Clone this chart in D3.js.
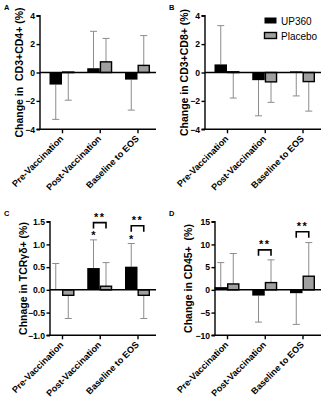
<!DOCTYPE html>
<html>
<head>
<meta charset="utf-8">
<script src="https://cdn.jsdelivr.net/npm/d3@7"></script>
<style>
html,body{margin:0;padding:0;background:#fff;}
svg text{font-family:"Liberation Sans",Arial,sans-serif;}
</style>
</head>
<body>
<svg id="chart" width="331" height="400"></svg>
<script>
const categories = ["Pre-Vaccination", "Post-Vaccination", "Baseline to EOS"];
const seriesNames = ["UP360", "Placebo"];

// Panel A: CD3+CD4+
const aUP360 = [-0.85, 0.3, -0.5];
const aUP360Err = [-3.3, 2.9, -2.65];
const aPlacebo = [0.03, 0.75, 0.5];
const aPlaceboErr = [-1.95, 2.4, 2.6];
const aTicks = [-4, -2, 0, 2, 4];

// Panel B: CD3+CD8+
const bUP360 = [0.57, -0.54, 0.08];
const bUP360Err = [3.3, -3.05, -1.65];
const bPlacebo = [0.05, -0.66, -0.64];
const bPlaceboErr = [-1.8, -2.1, -2.72];
const bTicks = [-4, -2, 0, 2, 4];

// Panel C: TCRγδ+
const cUP360 = [0.005, 0.48, 0.51];
const cUP360Err = [0.58, 1.1, 1.02];
const cPlacebo = [-0.12, 0.08, -0.12];
const cPlaceboErr = [-0.63, 0.6, -0.63];
const cTicks = [-1.0, -0.5, 0.0, 0.5, 1.0, 1.5];
const cStars = [null, 1.24, 1.14];
const cBrackets = [null, 1.48, 1.41];

// Panel D: CD45+
const dUP360 = [0.6, -1.26, -0.73];
const dUP360Err = [6.0, -7.1, -7.6];
const dPlacebo = [1.3, 1.6, 3.0];
const dPlaceboErr = [8.0, 6.6, 10.4];
const dTicks = [-10, -5, 0, 5, 10, 15];
const dBrackets = [null, 8.8, 12.8];

const panels = [
  {label:"A", ox:0, oy:0, axisX:40, titleX:23, title:"Change in  CD3+CD4+ (%)", up:aUP360, upE:aUP360Err, pl:aPlacebo, plE:aPlaceboErr, ticks:aTicks, fmt:d3.format("d"), legend:false},
  {label:"B", ox:165, oy:0, axisX:40, titleX:23, title:"Change in CD3+CD8+ (%)", up:bUP360, upE:bUP360Err, pl:bPlacebo, plE:bPlaceboErr, ticks:bTicks, fmt:d3.format("d"), legend:true},
  {label:"C", ox:0, oy:206, axisX:50, titleX:27, title:"Chnage in TCRγδ+ (%)", up:cUP360, upE:cUP360Err, pl:cPlacebo, plE:cPlaceboErr, ticks:cTicks, fmt:d3.format(".1f"), stars:cStars, brackets:cBrackets},
  {label:"D", ox:165, oy:206, axisX:50, titleX:27, title:"Change in CD45+  (%)", up:dUP360, upE:dUP360Err, pl:dPlacebo, plE:dPlaceboErr, ticks:dTicks, fmt:d3.format("d"), brackets:dBrackets}
];

const svg = d3.select("#chart");
const colors = {UP360:"#000000", Placebo:"#a0a0a0"};
const errColor = "#8c8c8c";

panels.forEach(p => {
  const g = svg.append("g").attr("transform", `translate(${p.ox},${p.oy})`);
  const left = p.axisX, top = 15.7, bottom = 129.3, right = 156;
  const y = d3.scaleLinear().domain([p.ticks[0], p.ticks[p.ticks.length-1]]).range([bottom, top]);
  const x = d3.scalePoint().domain(categories).range([62, 137.5]);
  const bw = 12.5;

  // panel label
  g.append("text").attr("x", 4).attr("y", 10).attr("font-size", 7.5).attr("font-weight", "bold").text(p.label);

  // y axis
  const ya = g.append("g").attr("transform", `translate(${left},0)`)
    .call(d3.axisLeft(y).tickValues(p.ticks).tickFormat(p.fmt).tickSize(3.5).tickPadding(1.5));
  ya.select(".domain").attr("stroke-width", 1.4).attr("d", `M-3.5,${bottom}H0V${top}H-3.5`);
  ya.selectAll(".tick line").attr("stroke-width", 1.4);
  ya.selectAll(".tick text").attr("font-size", 8.6).attr("font-weight", "bold").attr("font-family", "Liberation Sans, Arial, sans-serif");

  // bottom axis
  const xa = g.append("g").attr("transform", `translate(0,${bottom})`)
    .call(d3.axisBottom(x).tickSize(4).tickFormat(""));
  xa.select(".domain").attr("d", `M${left},0H${right}`).attr("stroke-width", 1.4);
  xa.selectAll(".tick line").attr("stroke-width", 1.4);

  categories.forEach((c, i) => {
    g.append("text")
      .attr("transform", `translate(${x(c) + 2},${bottom + 10}) rotate(-45)`)
      .attr("text-anchor", "end")
      .attr("font-size", 9.1).attr("font-weight", "bold")
      .text(c);
  });

  // y title
  g.append("text")
    .attr("transform", `translate(${p.titleX},${(top + bottom) / 2}) rotate(-90)`)
    .attr("text-anchor", "middle")
    .attr("font-size", 10.5).attr("font-weight", "bold")
    .style("white-space", "pre")
    .text(p.title);

  // error bars
  const drawErr = (cx, v, e) => {
    g.append("line").attr("x1", cx).attr("x2", cx).attr("y1", y(v)).attr("y2", y(e)).attr("stroke", errColor).attr("stroke-width", 1);
    g.append("line").attr("x1", cx - 3.5).attr("x2", cx + 3.5).attr("y1", y(e)).attr("y2", y(e)).attr("stroke", errColor).attr("stroke-width", 1);
  };
  categories.forEach((c, i) => {
    drawErr(x(c) - bw / 2, p.up[i], p.upE[i]);
    drawErr(x(c) + bw / 2, p.pl[i], p.plE[i]);
  });

  // bars
  categories.forEach((c, i) => {
    const v = p.up[i];
    g.append("rect").attr("x", x(c) - bw).attr("width", bw)
      .attr("y", Math.min(y(v), y(0))).attr("height", Math.max(Math.abs(y(v) - y(0)), 0.5))
      .attr("fill", colors.UP360);
    const w = p.pl[i];
    g.append("rect").attr("x", x(c) + 0.7).attr("width", bw - 1.4)
      .attr("y", Math.min(y(w), y(0))).attr("height", Math.max(Math.abs(y(w) - y(0)), 0.5))
      .attr("fill", colors.Placebo).attr("stroke", "#000").attr("stroke-width", 1.4);
  });

  // zero line
  g.append("line").attr("x1", left).attr("x2", right).attr("y1", y(0)).attr("y2", y(0)).attr("stroke", "#000").attr("stroke-width", 1.5);

  // stars
  if (p.stars) categories.forEach((c, i) => {
    if (p.stars[i] == null) return;
    g.append("text").attr("x", x(c) - bw / 2).attr("y", y(p.stars[i]) + 5)
      .attr("text-anchor", "middle").attr("font-size", 11).attr("font-weight", "bold").text("*");
  });
  if (p.brackets) categories.forEach((c, i) => {
    if (p.brackets[i] == null) return;
    const yb = y(p.brackets[i]);
    const x1 = x(c) - bw / 2, x2 = x(c) + bw / 2;
    g.append("path").attr("d", `M${x1},${yb + 6}V${yb}H${x2}V${yb + 6}`)
      .attr("fill", "none").attr("stroke", "#000").attr("stroke-width", 1.6);
    g.append("text").attr("x", (x1 + x2) / 2).attr("y", yb - 2)
      .attr("text-anchor", "middle").attr("font-size", 11).attr("font-weight", "bold")
      .attr("letter-spacing", 1.5).text("**");
  });

  // legend
  if (p.legend) {
    seriesNames.forEach((s, i) => {
      g.append("rect").attr("x", 99.5).attr("y", 17.5 + i * 15).attr("width", 12).attr("height", 6)
        .attr("fill", colors[s]).attr("stroke", "#000").attr("stroke-width", i ? 1.4 : 0);
      g.append("text").attr("x", 116).attr("y", 24.5 + i * 15).attr("font-size", 10).text(s);
    });
  }
});
</script>
</body>
</html>
